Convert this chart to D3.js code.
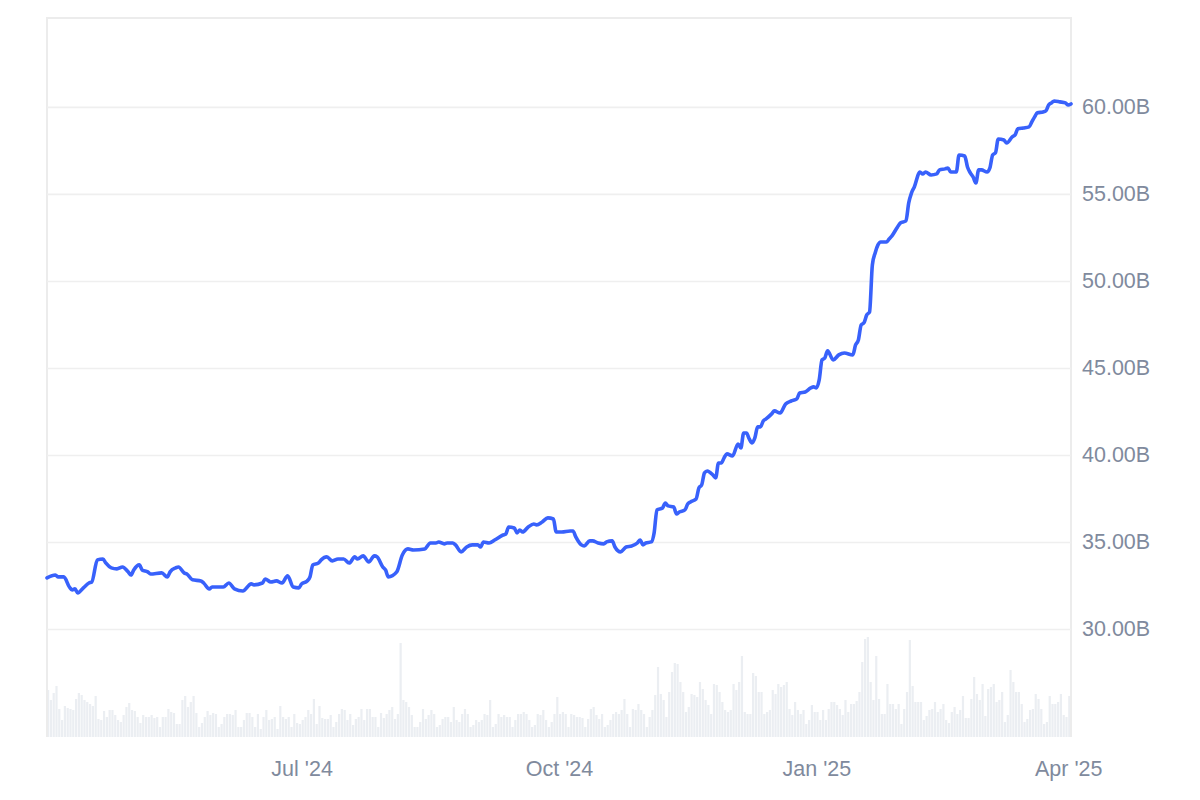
<!DOCTYPE html>
<html>
<head>
<meta charset="utf-8">
<script src="https://cdn.jsdelivr.net/npm/d3@7"></script>
<style>
  html, body { margin: 0; padding: 0; background: #fff; }
  svg { display: block; font-family: "Liberation Sans", Arial, sans-serif; }
</style>
</head>
<body>
<svg width="1200" height="800"></svg>
<script>
'use strict';

// market cap, billions
var dates = [
  "2024-04-01","2024-04-04","2024-04-05","2024-04-07","2024-04-09","2024-04-10","2024-04-11","2024-04-12","2024-04-14","2024-04-16",
  "2024-04-17","2024-04-19","2024-04-21","2024-04-22","2024-04-24","2024-04-26","2024-04-28","2024-04-30","2024-05-01","2024-05-02",
  "2024-05-04","2024-05-05","2024-05-07","2024-05-08","2024-05-12","2024-05-14","2024-05-15","2024-05-17","2024-05-18","2024-05-20",
  "2024-05-21","2024-05-23","2024-05-26","2024-05-27","2024-05-29","2024-05-30","2024-06-03","2024-06-05","2024-06-07","2024-06-10",
  "2024-06-13","2024-06-14","2024-06-17","2024-06-18","2024-06-20","2024-06-22","2024-06-24","2024-06-26","2024-06-28","2024-06-30",
  "2024-07-01","2024-07-03","2024-07-04","2024-07-05","2024-07-07","2024-07-08","2024-07-10","2024-07-12","2024-07-14","2024-07-16",
  "2024-07-18","2024-07-20","2024-07-21","2024-07-23","2024-07-25","2024-07-27","2024-07-28","2024-07-30","2024-07-31","2024-08-01",
  "2024-08-04","2024-08-06","2024-08-08","2024-08-10","2024-08-14","2024-08-16","2024-08-18","2024-08-19","2024-08-21","2024-08-22",
  "2024-08-24","2024-08-25","2024-08-27","2024-08-29","2024-08-31","2024-09-02","2024-09-03","2024-09-04","2024-09-06","2024-09-08",
  "2024-09-11","2024-09-12","2024-09-13","2024-09-15","2024-09-16","2024-09-17","2024-09-18","2024-09-20","2024-09-22","2024-09-23",
  "2024-09-25","2024-09-27","2024-09-29","2024-09-30","2024-10-02","2024-10-05","2024-10-06","2024-10-07","2024-10-09","2024-10-10",
  "2024-10-12","2024-10-13","2024-10-15","2024-10-17","2024-10-18","2024-10-20","2024-10-21","2024-10-23","2024-10-25","2024-10-27",
  "2024-10-29","2024-10-30","2024-10-31","2024-11-01","2024-11-03","2024-11-04","2024-11-05","2024-11-07","2024-11-08","2024-11-09",
  "2024-11-11","2024-11-12","2024-11-13","2024-11-15","2024-11-16","2024-11-17","2024-11-19","2024-11-20","2024-11-21","2024-11-22",
  "2024-11-23","2024-11-25","2024-11-26","2024-11-27","2024-11-28","2024-11-29","2024-11-30","2024-12-02","2024-12-04","2024-12-05",
  "2024-12-06","2024-12-07","2024-12-08","2024-12-09","2024-12-10","2024-12-11","2024-12-12","2024-12-13","2024-12-14","2024-12-16",
  "2024-12-17","2024-12-19","2024-12-21","2024-12-23","2024-12-25","2024-12-26","2024-12-28","2024-12-30","2024-12-31","2025-01-01",
  "2025-01-02","2025-01-03","2025-01-04","2025-01-05","2025-01-07","2025-01-09","2025-01-11","2025-01-14","2025-01-15","2025-01-16",
  "2025-01-17","2025-01-18","2025-01-19","2025-01-20","2025-01-21","2025-01-22","2025-01-23","2025-01-24","2025-01-26","2025-01-27",
  "2025-01-28","2025-01-30","2025-01-31","2025-02-02","2025-02-03","2025-02-04","2025-02-05","2025-02-07","2025-02-08","2025-02-09",
  "2025-02-11","2025-02-13","2025-02-14","2025-02-16","2025-02-17","2025-02-18","2025-02-20","2025-02-21","2025-02-23","2025-02-24",
  "2025-02-25","2025-02-26","2025-02-27","2025-02-28","2025-03-01","2025-03-03","2025-03-04","2025-03-05","2025-03-06","2025-03-07",
  "2025-03-09","2025-03-10","2025-03-12","2025-03-13","2025-03-14","2025-03-16","2025-03-18","2025-03-19","2025-03-20","2025-03-21",
  "2025-03-23","2025-03-24","2025-03-25","2025-03-26","2025-03-27","2025-03-29","2025-03-31","2025-04-01","2025-04-02"
];

var marketCap = [
  32.93,33.10,32.99,32.99,32.41,32.24,32.30,32.07,32.36,32.64,
  32.70,33.97,34.02,33.79,33.51,33.45,33.56,33.28,33.10,33.39,
  33.68,33.39,33.28,33.16,33.22,32.99,33.28,33.51,33.56,33.22,
  33.16,32.82,32.76,32.64,32.30,32.41,32.41,32.64,32.30,32.18,
  32.59,32.53,32.64,32.87,32.70,32.76,32.64,33.05,32.41,32.36,
  32.59,32.76,32.99,33.68,33.79,33.97,34.14,33.91,34.02,34.02,
  33.79,34.14,34.02,34.20,33.85,34.20,34.14,33.56,33.39,32.99,
  33.28,34.25,34.60,34.54,34.60,34.94,34.94,35.00,34.89,34.94,
  34.94,34.83,34.43,34.71,34.83,34.83,34.71,35.00,34.94,35.11,
  35.40,35.46,35.86,35.80,35.52,35.69,35.57,35.86,36.03,35.98,
  36.15,36.38,36.32,35.57,35.57,35.63,35.63,35.29,34.83,34.77,
  35.06,35.06,34.94,34.89,35.00,35.06,34.71,34.43,34.71,34.77,
  34.94,35.11,34.83,34.94,35.00,35.52,36.84,36.95,37.24,37.07,
  37.01,36.61,36.72,36.84,37.18,37.30,37.47,38.10,38.28,38.97,
  39.08,38.85,38.68,39.54,39.54,39.83,40.06,39.94,40.63,40.40,
  41.26,41.26,40.92,40.69,40.98,41.61,41.61,41.95,42.07,42.36,
  42.53,42.41,42.93,43.10,43.22,43.56,43.62,43.85,43.91,43.85,
  44.31,45.46,45.57,45.98,45.46,45.75,45.86,45.75,46.32,46.61,
  47.47,47.59,48.05,48.22,50.92,51.61,52.07,52.24,52.24,52.41,
  52.59,53.10,53.33,53.45,54.48,55.06,55.40,56.26,56.15,56.26,
  56.09,56.15,56.38,56.44,56.49,56.26,56.26,57.24,57.18,56.55,
  56.21,55.98,55.63,56.38,56.38,56.26,56.49,57.24,57.36,58.16,
  58.10,57.93,58.28,58.39,58.74,58.79,58.85,59.14,59.43,59.66,
  59.71,59.77,60.11,60.23,60.34,60.29,60.23,60.11,60.17
];

// daily volume from the first day, relative units
var volumeStart = "2024-04-01";
var volume = [
  47,37,44,51,28,17,31,29,28,27, 38,44,42,37,35,33,31,41,18,17,
  26,20,27,27,22,17,15,22,30,34, 27,26,20,14,22,20,20,22,19,20,
  10,20,20,28,25,24,13,13,37, 41,30,35,41,24,10,14,20,26,22,
  24,23,10,13,20,23,23,22,27,10, 10,17,24,24,20,10,23,8,20,
  27,17,18,20,8,31,20,18,20, 10,23,14,13,17,20,27,23,38,13,
  31,19,18,18,22,10,15,23,
  28,27,17,23,12,18,20,28,17,28, 28,20,20,10,24,19,23,27,30,18,
  23,94,37,35,30,22,10,10,15,28, 18,22,27,23,10,12,18,20,20,15,
  30,17,15,23,28,23,10,12,17, 15,17,23,22,37,10,13,23,20,
  22,20,20,10,17,23,23,25,23, 17,10,12,23,22,27,17,10,15,
  23,40,23,25,23,10,23,22,20, 20,19,10,18,28,30,22,18,23,
  10,12,17,23,25,23,27,38,23,10, 28,27,33,27,23,10,20,27,42,70,
  43,37,20,45,65,74,73,
  55,45,25,30,43,42,40,55,48, 37,32,23,53,52,45,35,27,25,
  27,53,47,55,81,25,23,23,64,61, 45,45,23,25,27,47,43,53,50,
  52,55,28,22,35,27,23,27,13, 17,32,25,25,17,27,17,28,
  35,35,32,28,22,37,25,33, 33,36,45,75,98,100,55,37,81,38,
  23,23,53,
  33,33,28,33,13,28,45,97,51,35, 35,35,17,21,27,28,35,25,28,33,
  17,14,25,30,23,27,41,19,19,38, 60,43,37,53,21,48,50,53,35,37,
  45,15,22,67,55,45,45,33,15,18, 27,28,43,38,28,13,15,41,33,33,
  35,43,22,20,41
];

var yTicks = [30, 35, 40, 45, 50, 55, 60];
var xTicks = ["2024-07-01", "2024-10-01", "2025-01-01", "2025-04-01"];
var xTickLabels = ["Jul '24", "Oct '24", "Jan '25", "Apr '25"];

var parse = d3.utcParse("%Y-%m-%d");

var svg = d3.select("svg"),
    margin = {top: 18, right: 129, bottom: 63, left: 47},
    width = +svg.attr("width") - margin.left - margin.right,
    height = +svg.attr("height") - margin.top - margin.bottom;

var g = svg.append("g")
    .attr("transform", "translate(" + margin.left + "," + margin.top + ")");

var x = d3.scaleUtc()
    .domain([parse("2024-04-01"), parse("2025-04-02")])
    .range([0, width]);

var y = d3.scaleLinear()
    .domain([23.79, 65.11])
    .range([height, 0]);

var yVol = d3.scaleLinear()
    .domain([0, 100])
    .range([height, height - 100]);

var line = dates.map(function(d, i) { return {date: parse(d), value: marketCap[i]}; });
var start = parse(volumeStart);
var bars = volume.map(function(v, i) { return {date: d3.utcDay.offset(start, i), value: v}; });
var dayW = x(d3.utcDay.offset(start, 1)) - x(start);

// volume bars
g.selectAll(".vol")
  .data(bars)
  .enter().append("rect")
    .attr("class", "vol")
    .attr("x", function(d) { return x(d.date); })
    .attr("y", function(d) { return yVol(d.value); })
    .attr("width", dayW - 0.6)
    .attr("height", function(d) { return height - yVol(d.value); })
    .attr("fill", "#ebeef2");

// frame
g.append("path")
    .attr("d", "M0," + height + "V0H" + width + "V" + height)
    .attr("fill", "none")
    .attr("stroke", "#ececec")
    .attr("stroke-width", 2);

// y axis with gridlines
var yAxis = g.append("g")
    .attr("transform", "translate(" + width + ",0)")
    .call(d3.axisRight(y)
      .tickValues(yTicks)
      .tickSize(-width)
      .tickPadding(11)
      .tickFormat(function(d) { return d3.format(".2f")(d) + "B"; }));
yAxis.select(".domain").remove();
yAxis.selectAll(".tick line")
    .attr("stroke", "#efefef")
    .attr("stroke-width", 1.6);
yAxis.selectAll(".tick text")
    .attr("fill", "#808a9d")
    .attr("font-size", "21.5px")
    .attr("font-family", "Liberation Sans, Arial, sans-serif");

// x axis
var xAxis = g.append("g")
    .attr("transform", "translate(0," + height + ")")
    .call(d3.axisBottom(x)
      .tickValues(xTicks.map(parse))
      .tickSize(0)
      .tickPadding(24)
      .tickFormat(function(d, i) { return xTickLabels[i]; }));
xAxis.select(".domain").remove();
xAxis.selectAll(".tick text")
    .attr("fill", "#808a9d")
    .attr("font-size", "21.5px")
    .attr("font-family", "Liberation Sans, Arial, sans-serif");

// market cap line
g.append("path")
    .datum(line)
    .attr("fill", "none")
    .attr("stroke", "#3861fb")
    .attr("stroke-width", 3.6)
    .attr("stroke-linejoin", "round")
    .attr("stroke-linecap", "round")
    .attr("d", d3.line()
      .curve(d3.curveMonotoneX)
      .x(function(d) { return x(d.date); })
      .y(function(d) { return y(d.value); }));
</script>
</body>
</html>
